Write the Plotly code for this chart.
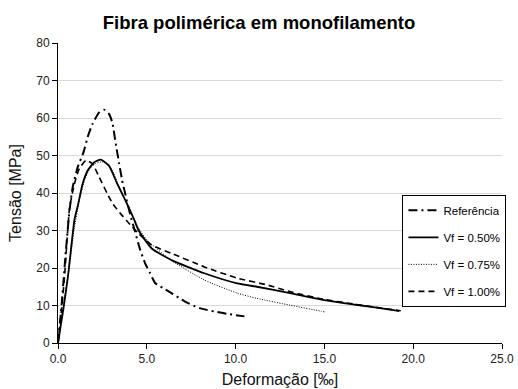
import plotly.graph_objects as go

# Referência (dash-dot)
ref_x = [0, 0.2, 0.45, 0.65, 0.83, 1.11, 1.44, 1.67, 1.94, 2.32, 2.6, 2.87, 3.06, 3.24, 3.43, 3.61, 3.8,
         4.08, 4.26, 4.63, 4.91, 5.19, 5.47, 5.93, 6.39, 7.13, 7.97, 8.8, 9.63, 10.5]
ref_y = [0, 10, 25, 35.4, 41.6, 46.9, 50.9, 54.9, 58.4, 61.5, 62.2, 61.1, 58.8, 53.5, 48.2, 43.4, 39.5,
         34, 31, 24.8, 21.2, 18.6, 16, 14.6, 13.3, 11.1, 9.3, 8.4, 7.7, 7.1]

# Vf = 0.50% (solid)
v50_x = [0, 0.3, 0.56, 0.93, 1.11, 1.39, 1.67, 2.04, 2.41, 2.87, 3.33, 3.8, 4.26, 4.54, 5.28, 6.39,
         8.24, 10.09, 11.2, 13.06, 14.91, 16.76, 18.98, 19.2]
v50_y = [0, 9, 17.7, 33, 36.5, 42.5, 46, 48.2, 48.9, 47.3, 42.5, 38, 33.2, 30, 25.2, 22.1,
         18.6, 15.9, 15.0, 13.3, 11.5, 10.2, 8.7, 8.5]

# Vf = 0.75% (dotted)
v75_x = [0, 0.3, 0.6, 0.9, 1.2, 1.5, 1.8, 2.1, 2.5, 3.0, 3.5, 4.0, 4.5, 5.0, 6.39, 8.24, 10.09,
         11.2, 13.06, 14.8, 15.0]
v75_y = [0, 10, 19, 30, 38, 43.5, 46.5, 47.8, 48.3, 46.5, 41, 36, 31, 27.5, 22, 16.8, 13.3,
         11.9, 10.1, 8.5, 8.3]

# Vf = 1.00% (dashed)
v100_x = [0, 0.2, 0.37, 0.65, 0.93, 1.2, 1.58, 1.94, 2.32, 2.78, 3.1, 3.52, 4.17, 4.54, 5.28, 6.39,
          8.24, 10.09, 11.76, 13.06, 14.91, 16.76, 18.98, 19.3]
v100_y = [0, 9, 17.7, 36, 42.5, 46.5, 48.7, 47.8, 44.2, 39.8, 37, 34.5, 31, 29.2, 26.1, 23.9,
          20.3, 17.3, 15.5, 13.7, 11.7, 10.3, 8.8, 8.6]

names = ["Referência", "Vf = 0.50%", "Vf = 0.75%", "Vf = 1.00%"]

fig = go.Figure()
fig.add_trace(go.Scatter(x=ref_x, y=ref_y, mode="lines", name=names[0], legendgroup="a",
                         line=dict(color="black", width=2, dash="9px,4px,2px,4px",
                                   shape="spline", smoothing=0.5)))
fig.add_trace(go.Scatter(x=v50_x, y=v50_y, mode="lines", name=names[1], legendgroup="b",
                         line=dict(color="black", width=1.8, shape="spline", smoothing=0.5)))
fig.add_trace(go.Scatter(x=v75_x, y=v75_y, mode="lines", name=names[2], legendgroup="c",
                         line=dict(color="black", width=1, dash="1px,1.5px",
                                   shape="spline", smoothing=0.5)))
fig.add_trace(go.Scatter(x=v100_x, y=v100_y, mode="lines", name=names[3], legendgroup="d",
                         line=dict(color="black", width=1.6, dash="6px,4px",
                                   shape="spline", smoothing=0.5)))

font = "Arial, Liberation Sans, sans-serif"
fig.update_layout(
    width=518, height=389,
    margin=dict(l=58, r=12.5, t=43, b=46),
    paper_bgcolor="white", plot_bgcolor="white",
    font=dict(family=font, size=12, color="#222"),
    title=dict(text="<b>Fibra polimérica em monofilamento</b>", x=0.5, xanchor="center",
               y=0.942, yanchor="middle", font=dict(size=18.5, family=font, color="black")),
    showlegend=True,
    legend=dict(x=1.010, xanchor="right", y=(343.3 - 195) / 300.3, yanchor="top",
                bordercolor="black", borderwidth=1, bgcolor="white",
                font=dict(size=11.5, family=font, color="black"),
                tracegroupgap=8, itemwidth=30),
    xaxis=dict(range=[0, 25], tickvals=[0, 5, 10, 15, 20, 25],
               ticktext=["0.0", "5.0", "10.0", "15.0", "20.0", "25.0"],
               showgrid=False, zeroline=False, showline=True, linecolor="black", linewidth=1,
               ticks="outside", ticklen=5, tickcolor="black", automargin=False,
               tickfont=dict(size=12, color="#222"),
               title=dict(text="Deformação [‰]", font=dict(size=16, family=font, color="#111"),
                          standoff=8)),
    yaxis=dict(range=[0, 80], dtick=10, showgrid=True, gridcolor="#d9d9d9", gridwidth=1,
               zeroline=False, showline=True, linecolor="black", linewidth=1,
               ticks="outside", ticklen=5, tickcolor="black", automargin=False,
               tickfont=dict(size=12, color="#222"),
               title=dict(text="Tensão [MPa]", font=dict(size=16, family=font, color="#111"),
                          standoff=10)),
)

fig.write_html("out.html", config={"displayModeBar": False},
               post_script="document.body.style.margin='0';document.body.style.overflow='hidden';")
